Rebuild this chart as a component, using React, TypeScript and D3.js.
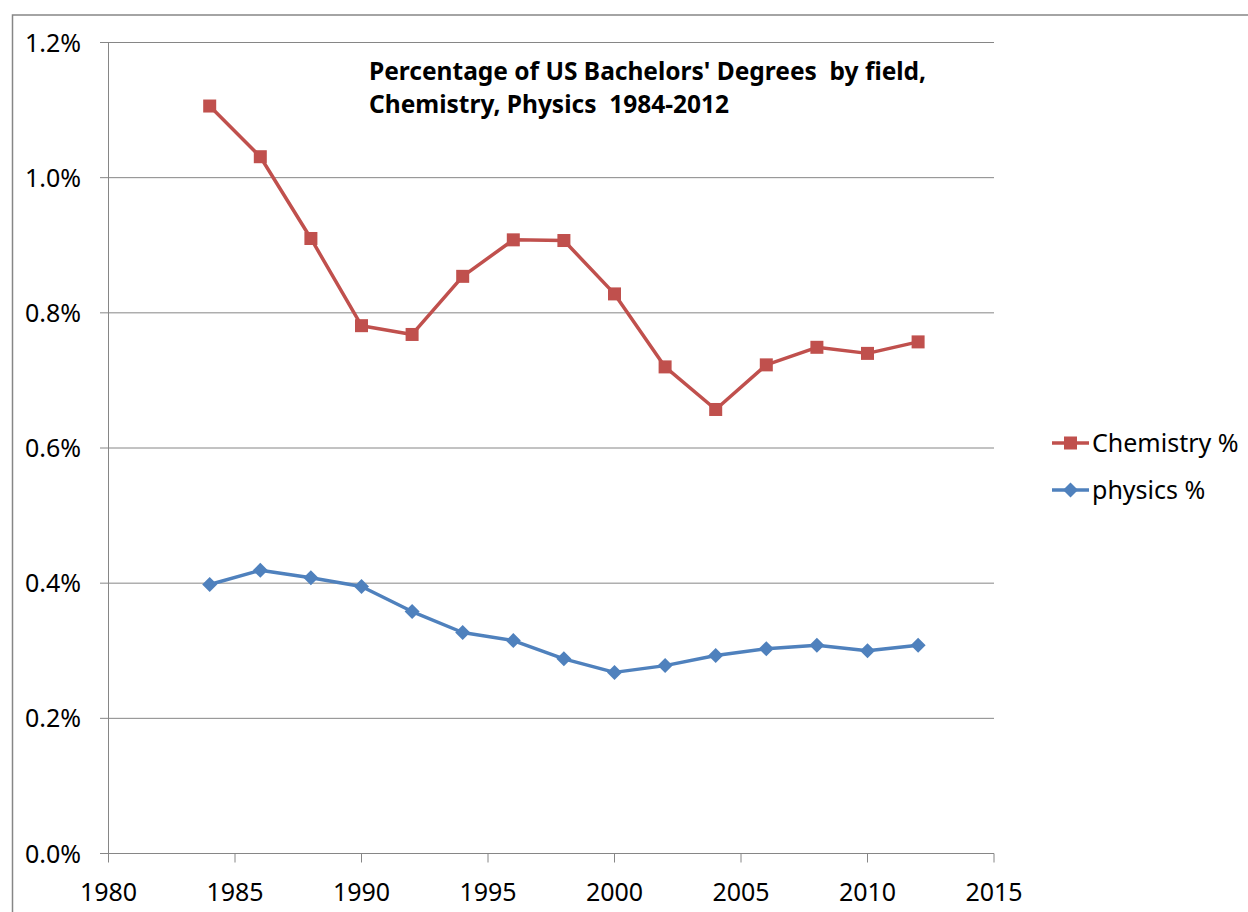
import React from "react";
import * as d3 from "d3";

const years = [1984, 1986, 1988, 1990, 1992, 1994, 1996, 1998, 2000, 2002, 2004, 2006, 2008, 2010, 2012];
const chemistry = [1.106, 1.031, 0.91, 0.781, 0.768, 0.854, 0.908, 0.907, 0.828, 0.72, 0.657, 0.723, 0.749, 0.74, 0.757];
const physics = [0.398, 0.419, 0.408, 0.395, 0.358, 0.327, 0.315, 0.288, 0.268, 0.278, 0.293, 0.303, 0.308, 0.3, 0.308];
const xTicks = [1980, 1985, 1990, 1995, 2000, 2005, 2010, 2015];
const yTicks = [0, 0.2, 0.4, 0.6, 0.8, 1.0, 1.2];
const titleLines = ["Percentage of US Bachelors' Degrees  by field,", "Chemistry, Physics  1984-2012"];
const seriesNames = ["Chemistry %", "physics %"];

const FONT = "'Noto Sans', sans-serif";
const CHEM = "#C0504D";
const PHYS = "#4F81BD";
const GRID = "#868686";

export default function App() {
  const x = d3.scaleLinear().domain([1980, 2015]).range([108.5, 994]);
  const y = d3.scaleLinear().domain([0, 1.2]).range([853.5, 42.5]);
  const line = d3
    .line<[number, number]>()
    .x((d) => x(d[0]))
    .y((d) => y(d[1]));
  const chemPts: [number, number][] = years.map((yr, i) => [yr, chemistry[i]]);
  const physPts: [number, number][] = years.map((yr, i) => [yr, physics[i]]);
  const sq = 13;
  const dm = 7.5;
  const diamond = (cx: number, cy: number) =>
    `M${cx},${cy - dm}L${cx + dm},${cy}L${cx},${cy + dm}L${cx - dm},${cy}Z`;

  return (
    <svg
      width={1248}
      height={912}
      style={{ position: "absolute", left: 0, top: 0, background: "#fff" }}
      fontFamily={FONT}
    >
      <rect x={0} y={0} width={1248} height={912} fill="#fff" />
      <rect x={12.5} y={15} width={1260} height={920} fill="none" stroke={GRID} strokeWidth={1.5} />
      {yTicks.map((t) => (
        <g key={t}>
          <line x1={100} x2={994} y1={y(t)} y2={y(t)} stroke={GRID} strokeWidth={1} />
          <text x={81} y={y(t) + 9} textAnchor="end" fontSize={25} fill="#000">
            {d3.format(".1f")(t) + "%"}
          </text>
        </g>
      ))}
      <line x1={x(1980)} x2={x(1980)} y1={y(1.2)} y2={y(0)} stroke={GRID} strokeWidth={1} />
      {xTicks.map((t) => (
        <g key={t}>
          <line x1={x(t)} x2={x(t)} y1={y(0)} y2={y(0) + 9} stroke={GRID} strokeWidth={1} />
          <text x={x(t)} y={901} textAnchor="middle" fontSize={25} fill="#000">
            {t}
          </text>
        </g>
      ))}
      <path d={line(chemPts) || ""} fill="none" stroke={CHEM} strokeWidth={3.5} strokeLinejoin="round" />
      {chemPts.map((p, i) => (
        <rect key={i} x={x(p[0]) - sq / 2} y={y(p[1]) - sq / 2} width={sq} height={sq} fill={CHEM} />
      ))}
      <path d={line(physPts) || ""} fill="none" stroke={PHYS} strokeWidth={3.5} strokeLinejoin="round" />
      {physPts.map((p, i) => (
        <path key={i} d={diamond(x(p[0]), y(p[1]))} fill={PHYS} />
      ))}
      {titleLines.map((t, i) => (
        <text key={i} x={369} y={80 + i * 33} fontSize={24.5} fontWeight="bold" fill="#000" style={{ whiteSpace: "pre" }}>
          {t}
        </text>
      ))}
      <g>
        <line x1={1052} x2={1089} y1={443} y2={443} stroke={CHEM} strokeWidth={3.5} />
        <rect x={1070.5 - sq / 2} y={443 - sq / 2} width={sq} height={sq} fill={CHEM} />
        <text x={1092} y={452} fontSize={25} fill="#000">{seriesNames[0]}</text>
        <line x1={1052} x2={1089} y1={490} y2={490} stroke={PHYS} strokeWidth={3.5} />
        <path d={diamond(1070.5, 490)} fill={PHYS} />
        <text x={1092} y={499} fontSize={25} fill="#000">{seriesNames[1]}</text>
      </g>
    </svg>
  );
}
